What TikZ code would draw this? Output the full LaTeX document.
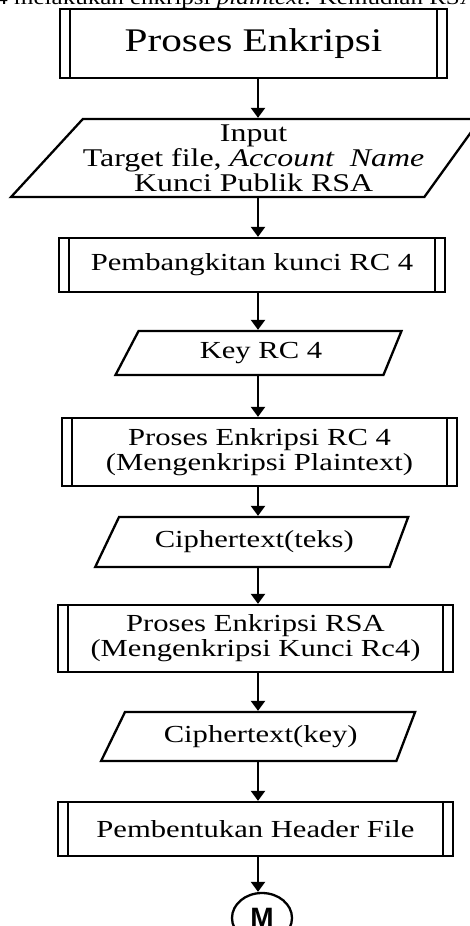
\documentclass[tikz,border=0pt]{standalone}
\usepackage{fontspec}
\setmainfont{Liberation Serif}[FakeStretch=1.25]
\newfontfamily\connfont{Liberation Sans}
\usetikzlibrary{arrows.meta,shapes.geometric}

\tikzset{
  proc/.style={draw=black,rectangle,inner sep=0pt,align=center,
    font=\fontsize{24.5}{25}\selectfont,
    path picture={\draw[line width=1.3pt]
      ([xshift=10pt]path picture bounding box.north west) -- ([xshift=10pt]path picture bounding box.south west)
      ([xshift=-10pt]path picture bounding box.north east) -- ([xshift=-10pt]path picture bounding box.south east);}},
  io/.style={draw=black,trapezium,trapezium left angle=43,trapezium right angle=130,
    trapezium stretches body,inner sep=0pt,align=center,font=\fontsize{24.5}{25}\selectfont},
  conn/.style={draw=black,ellipse,inner sep=0pt,font=\connfont\bfseries\fontsize{28}{28}\selectfont}
}

\begin{document}
\begin{tikzpicture}[x=1pt,y=1pt,line width=2.3pt,>={Triangle[length=10pt,width=14pt]}]
            \useasboundingbox (0,0) rectangle (470,-926);
            \clip (0,0) rectangle (470,-926);
            \node[anchor=base west,inner sep=0pt,font=\fontsize{20}{20}\selectfont](Prev)at(13,-5){\llap{RC4 }melakukan enkripsi \textit{plaintext}. Kemudian RSA};
            \node[proc,minimum width=387pt,minimum height=69pt,font=\fontsize{33}{34}\selectfont](Start)at(253.5,-43.5){Proses Enkripsi};
            \node[io,minimum width=463pt,minimum height=78pt,font=\fontsize{25.5}{25}\selectfont](Input)at(253.6,-158){Input\\Target file, \textit{Account\ \ Name}\\Kunci Publik RSA};
            \node[proc,minimum width=386pt,minimum height=54pt](GenKey)at(252,-265){Pembangkitan kunci RC 4};
            \node[io,minimum width=286pt,minimum height=44pt](Key)at(261,-353){Key RC 4};
            \node[proc,minimum width=395pt,minimum height=68pt](EncRC)at(259.5,-452){Proses Enkripsi RC 4\\(Mengenkripsi Plaintext)};
            \node[io,minimum width=313pt,minimum height=50pt](CipherText)at(254.3,-542){Ciphertext(teks)};
            \node[proc,minimum width=395pt,minimum height=67pt](EncRSA)at(255.5,-638.5){Proses Enkripsi RSA\\(Mengenkripsi Kunci Rc4)};
            \node[io,minimum width=314pt,minimum height=49pt](CipherKey)at(260.7,-736.5){Ciphertext(key)};
            \node[proc,minimum width=395pt,minimum height=54pt](Header)at(255.5,-829){Pembentukan Header File};
            \node[conn,minimum width=60pt,minimum height=50pt](M)at(262,-918){M};
            \coordinate (Axis) at (258,0);
            \foreach \a/\b in {Start/Input,Input/GenKey,GenKey/Key,Key/EncRC,EncRC/CipherText,
                CipherText/EncRSA,EncRSA/CipherKey,CipherKey/Header,Header/M}
              \draw[->] (\a.south -| Axis) -- (\b.north -| Axis);
        \end{tikzpicture}
\end{document}
